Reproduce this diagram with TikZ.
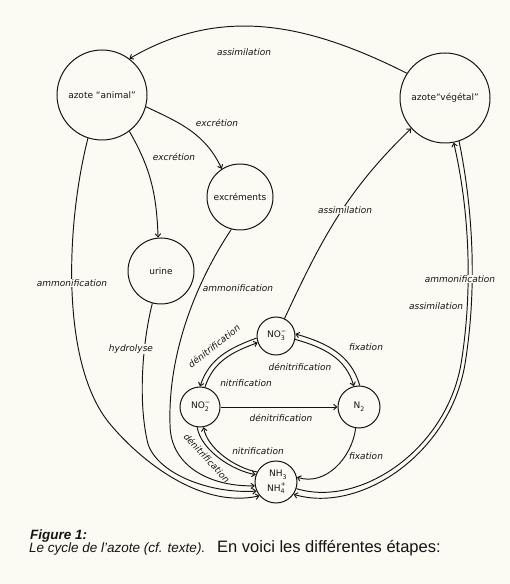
\documentclass[tikz,border=0pt]{standalone}
\usepackage{fontspec}
\usetikzlibrary{arrows.meta}
\newfontfamily\diagfont{DejaVu Sans}
\newfontfamily\capfont{Liberation Sans}
\definecolor{bg}{RGB}{252,251,243}
\definecolor{ink}{RGB}{20,20,20}
\newcommand\smallchem{\fontsize{6.3}{7}\selectfont}
\newcommand\chem[3]{#1\rlap{\raisebox{-0.32em}{\smallchem#2}}\rlap{\raisebox{0.5em}{\smallchem#3}}\phantom{\smallchem#2}}
\begin{document}
\begin{tikzpicture}[x=1pt,y=1pt,
  every node/.style={font=\diagfont\fontsize{9}{10}\selectfont, text=ink},
  state/.style={circle,draw=ink,line width=1pt,inner sep=0pt},
  conn/.style={draw=ink,line width=0.95pt,-{Straight Barb[length=3.2pt,width=5.5pt]}},
  lab/.style={font=\diagfont\itshape\fontsize{9}{10}\selectfont, inner sep=1pt},
  labf/.style={lab,fill=bg},
  capt/.style={anchor=base west, inner sep=0pt}
]
\fill[bg] (0,0) rectangle (510,584);
\useasboundingbox (0,0) rectangle (510,584);

% nodes
\node[state,minimum size=90pt] (ani) at (102,489) {azote “animal”};
\node[state,minimum size=90pt] (veg) at (445,486) {azote“végétal”};
\node[state,minimum size=66pt] (exc) at (240,387) {excréments};
\node[state,minimum size=66pt] (uri) at (161,313) {urine};
\node[state,minimum size=38pt] (no3) at (276,248) {\chem{NO}{3}{−}};
\node[state,minimum size=40pt] (no2) at (200,177) {\chem{NO}{2}{−}};
\node[state,minimum size=42pt] (n2) at (359,177) {\chem{N}{2}{}};
\node[state,minimum size=42pt,align=center] (nh) at (276,102) {\hspace*{4pt}\chem{NH}{3}{}\\[2pt]\chem{NH}{4}{+}};

% connectors
\draw[conn] (veg.147) .. controls (305,562) and (220,578) .. (ani.53);
\draw[conn] (ani.-15) to[out=-25,in=115] (exc.123);
\draw[conn] (ani.-53) to[out=-60,in=92] (uri.95);
\draw[conn] (ani.-108) .. controls (66,360) and (60,220) .. (110,160) .. controls (140,124) and (200,75) .. (nh.220);
\draw[conn] (uri.-105) .. controls (142,240) and (138,180) .. (148,140) .. controls (158,110) and (210,90) .. (nh.205);
\draw[conn] (exc.-105) .. controls (195,300) and (168,230) .. (170,160) .. controls (170,115) and (215,97) .. (nh.190);
\draw[conn] (no3.64) to[out=65,in=224] (veg.222);

% nitrogen cycle
\draw[conn] (no2) -- (n2);
\draw[conn] (no3.186) to[out=200,in=72] (no2.90);
\draw[conn] (no2.76) to[out=72,in=200] (no3.200);
\draw[conn] (n2.88) to[out=106,in=-16] (no3.6);
\draw[conn] (no3.-10) to[out=-16,in=106] (n2.104);
\draw[conn] (no2.262) to[out=280,in=170,looseness=0.8] (nh.160);
\draw[conn] (nh.152) to[out=170,in=280,looseness=0.8] (no2.280);
\draw[conn] (n2.261) to[out=263,in=-18] (nh.13);

% vegetal <-> NH
\draw[conn] (veg.-72) .. controls (472,380) and (478,300) .. (465,220) .. controls (450,130) and (360,70) .. (nh.-35);
\draw[conn] (nh.-18) .. controls (360,76) and (446,134) .. (461,220) .. controls (474,300) and (468,380) .. (veg.-79);

% labels
\node[lab] (lA) at (244,532) {assimilation};
\node[lab] (lE1) at (217,461) {excrétion};
\node[lab] (lE2) at (174,427) {excrétion};
\node[labf] (lAm1) at (72,301) {ammonification};
\node[lab] (lAm2) at (238,296) {ammonification};
\node[labf] (lAs2) at (345,374) {assimilation};
\node[labf] (lAm3) at (460,305) {ammonification};
\node[lab] (lAs3) at (436,278) {assimilation};
\node[labf] (lH) at (131,235) {hydrolyse};
\node[lab,rotate=38] (lD1) at (214,238) {dénitrification};
\node[lab] (lF1) at (366,237) {fixation};
\node[lab] (lD2) at (300,217) {dénitrification};
\node[lab] (lN1) at (246,201) {nitrification};
\node[lab] (lD3) at (281,166) {dénitrification};
\node[lab] (lN2) at (258,133) {nitrification};
\node[lab,rotate=-47] (lD4) at (207,126) {dénitrification};
\node[lab] (lF2) at (366,128) {fixation};

% caption
\node[capt,font=\capfont\bfseries\itshape\fontsize{13.5}{15}\selectfont] (cap1) at (30,45) {Figure 1:};
\node[capt,font=\capfont\itshape\fontsize{13.5}{15}\selectfont] (cap2) at (29,31) {Le cycle de l’azote (cf. texte).};
\node[capt,font=\capfont\fontsize{16.5}{18}\selectfont] (cap3) at (217,31) {En voici les différentes étapes:};
\end{tikzpicture}
\end{document}
